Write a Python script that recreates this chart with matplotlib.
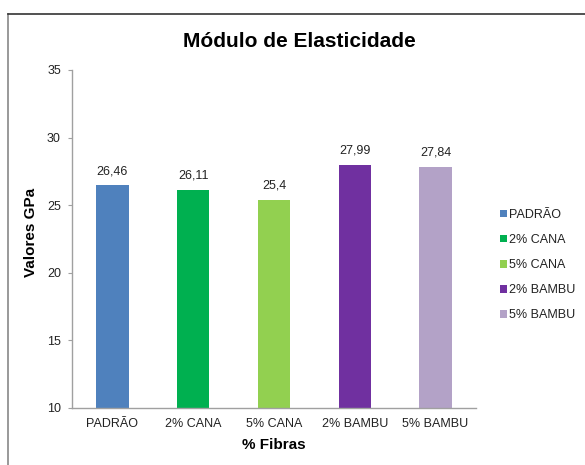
import matplotlib
matplotlib.use("Agg")
import matplotlib.pyplot as plt
from matplotlib.patches import Patch
from matplotlib.lines import Line2D

plt.rcParams['font.family'] = ['Liberation Sans', 'DejaVu Sans']

categories = ["PADRÃO", "2% CANA", "5% CANA", "2% BAMBU", "5% BAMBU"]
values = [26.46, 26.11, 25.4, 27.99, 27.84]
value_labels = ["26,46", "26,11", "25,4", "27,99", "27,84"]
colors = ["#4F81BD", "#00B050", "#92D050", "#7030A0", "#B3A2C7"]
yticks = [10, 15, 20, 25, 30, 35]

W, H = 585, 465
fig = plt.figure(figsize=(W/100, H/100), dpi=100)
L, R, T, B = 72, 476, 70, 408
ax = fig.add_axes([L/W, 1-B/H, (R-L)/W, (B-T)/H])

x = list(range(len(categories)))
ax.bar(x, [v - 10 for v in values], bottom=10, width=0.4, color=colors)
for xi, v, lab in zip(x, values, value_labels):
    ax.annotate(lab, (xi, v), xytext=(0, 6), textcoords='offset points',
                ha='center', va='bottom', fontsize=9, color='#222222')

ax.set_xlim(-0.5, 4.5)
ax.set_ylim(10, 35)
ax.set_yticks(yticks)
ax.set_yticklabels([str(t) for t in yticks], fontsize=9, color='#222222')
ax.set_xticks(x)
ax.set_xticklabels(categories, fontsize=9, color='#222222')
ax.tick_params(axis='x', length=0, pad=7)
ax.tick_params(axis='y', length=3, color='#A0A0A0', pad=5)
for s in ['top', 'right']:
    ax.spines[s].set_visible(False)
for s in ['left', 'bottom']:
    ax.spines[s].set_color('#A0A0A0')
    ax.spines[s].set_linewidth(1)

ax.set_xlabel("% Fibras", fontsize=11, fontweight='bold')
ax.xaxis.label.set_va('baseline')
ax.xaxis.set_label_coords(0.5, (B-449)/(B-T))
ax.set_ylabel("Valores GPa", fontsize=11, fontweight='bold')
ax.yaxis.label.set_va('center')
ax.yaxis.set_label_coords((31-L)/(R-L), (B-232)/(B-T))

fig.text(299.5/W, 1-47/H, "Módulo de Elasticidade", ha='center', va='baseline',
         fontsize=15, fontweight='bold', color='black')

handles = [Patch(facecolor=c, edgecolor='none') for c in colors]
fig.legend(handles, categories, loc='upper left', bbox_to_anchor=(500/W, 1-209/H),
           frameon=False, fontsize=9, handlelength=0.55, handleheight=0.55,
           handletextpad=0.2, labelspacing=1.05, borderpad=0, borderaxespad=0,
           labelcolor='#222222')

# outer border
fig.add_artist(Line2D([8/W, 8/W], [0, 1-14.5/H], color='#888888', lw=1.2, transform=fig.transFigure))
fig.add_artist(Line2D([8/W, 1], [1-14.5/H, 1-14.5/H], color='#333333', lw=1.2, transform=fig.transFigure))

fig.savefig("out.png", dpi=100)
